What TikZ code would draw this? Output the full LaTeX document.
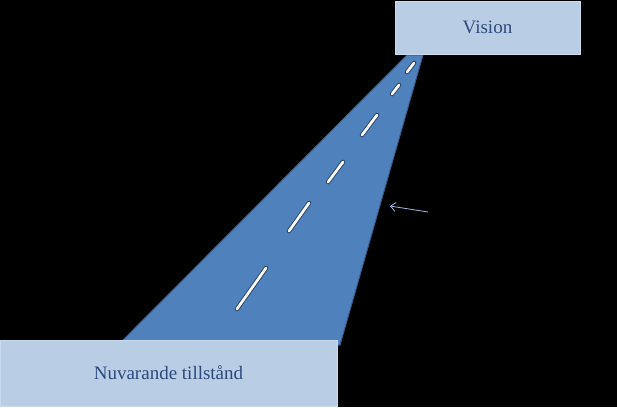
\documentclass[tikz,border=0pt]{standalone}
\usepackage{fontspec}
\setmainfont{Liberation Serif}
\usetikzlibrary{arrows.meta}
\definecolor{roadblue}{HTML}{4F81BD}
\definecolor{roadedge}{HTML}{385D8A}
\definecolor{boxblue}{HTML}{B9CDE5}
\definecolor{boxedge}{HTML}{C9D9EE}
\definecolor{textblue}{HTML}{2C4A7C}
\definecolor{arrowblue}{HTML}{9DB9E0}
\begin{document}
\begin{tikzpicture}[x=1pt, y=-1pt,
        statebox/.style = {draw=boxedge, fill=boxblue, line width=.8pt, inner sep=0pt,
                text=textblue, font=\fontsize{19}{22}\selectfont},
        dashline/.style = {line width=4.6pt, draw=roadedge!80!black, line cap=round},
        dashwhite/.style = {line width=2.6pt, draw=white, line cap=round}]
        \useasboundingbox (0,0) rectangle (617,407);
        \fill[black] (0,0) rectangle (617,407);

        % the road
        \filldraw[fill=roadblue, draw=roadedge, line width=1pt] (118,345) -- (407,55) -- (423,55) -- (340,345) -- cycle;
        \foreach \xa/\ya/\xb/\yb in {237/309/266/268, 289/231/309/203, 328/182/343/162, 362/135/377/115, 392/94/399/85, 407/72/414/63} {
                \draw[dashline] (\xa,\ya) -- (\xb,\yb);
                \draw[dashwhite] (\xa,\ya) -- (\xb,\yb);
        }

        \node[statebox, minimum width=185pt, minimum height=53pt] (vision) at (487.5,27.5) {Vision};
        \node[statebox, minimum width=337pt, minimum height=66pt] (current) at (168.5,373) {Nuvarande tillstånd};

        \coordinate (tail) at (428,212);
        \coordinate (tip) at (390,206);
        \draw[arrowblue, line width=.8pt, -{Straight Barb[length=5pt, width=9pt]}] (tail) -- (tip);
\end{tikzpicture}
\end{document}
